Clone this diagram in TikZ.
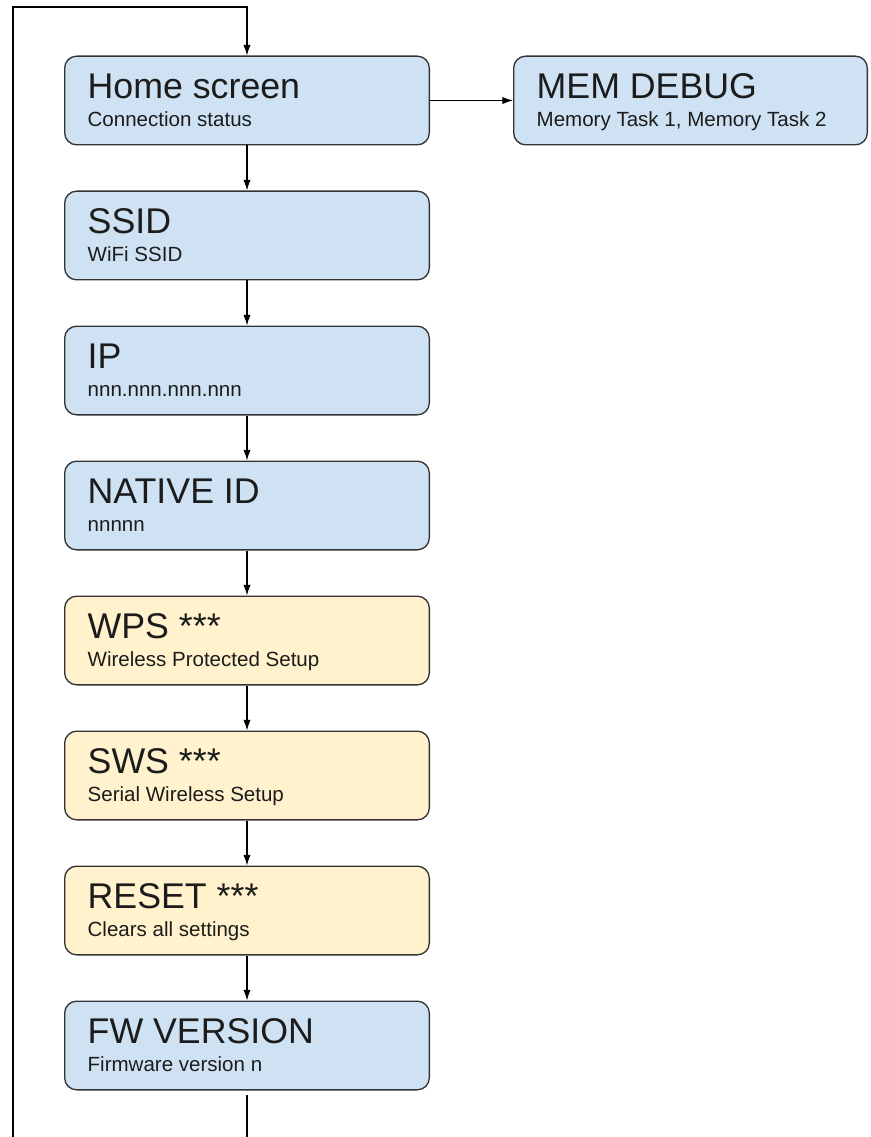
\documentclass[tikz,border=0pt]{standalone}
\usepackage{fontspec}
\setmainfont{Liberation Sans}
\usetikzlibrary{positioning,arrows.meta}
\definecolor{menublue}{HTML}{CFE2F3}
\definecolor{menuyellow}{HTML}{FFF2CC}
\definecolor{framegray}{HTML}{333333}
\definecolor{textdark}{HTML}{1C1C1C}
\newcommand{\menuitem}[2]{{\fontsize{26.8}{30}\selectfont #1}\\\raisebox{0pt}[\height][0pt]{#2}}
\tikzset{
  screen/.style={draw=framegray,line width=1pt,rounded corners=9pt,
    minimum width=273.5pt,minimum height=66.5pt,text width=239pt,inner xsep=17.25pt,
    align=flush left,text=textdark,font=\fontsize{15.4}{21}\selectfont},
  info/.style={screen,fill=menublue},
  setup/.style={screen,fill=menuyellow},
  flow/.style={draw=black,line width=0.9pt,-{Latex[length=8pt,width=5.5pt]}},
}

\begin{document}
\begin{tikzpicture}[x=0.75pt,y=-0.75pt,node distance=33.75pt]
\useasboundingbox (0,0) rectangle (870,1137);
\node[info] (home) at (247,100.5) {\menuitem{Home screen}{Connection status}};
\node[info,right=62.25pt of home,minimum width=265.25pt,text width=230.75pt] (mem) {\menuitem{MEM DEBUG}{Memory Task 1, Memory Task 2}};
\node[info,below=of home] (ssid) {\menuitem{SSID}{WiFi SSID}};
\node[info,below=of ssid] (ip) {\menuitem{IP}{nnn.nnn.nnn.nnn}};
\node[info,below=of ip] (native) {\menuitem{NATIVE ID}{nnnnn}};
\node[setup,below=of native] (wps) {\menuitem{WPS ***}{Wireless Protected Setup}};
\node[setup,below=of wps] (sws) {\menuitem{SWS ***}{Serial Wireless Setup}};
\node[setup,below=of sws] (reset) {\menuitem{RESET ***}{Clears all settings}};
\node[info,below=of reset] (fw) {\menuitem{FW VERSION}{Firmware version n}};

\foreach \a/\b in {home/mem,home/ssid,ssid/ip,ip/native,native/wps,wps/sws,sws/reset,reset/fw}
  \draw[flow] (\a) -- (\b);

% wrap-around back to the home screen
\coordinate (loop in) at (13,1137);
\coordinate (loop top) at (13,7);
\draw[line width=0.9pt,shorten <=3pt] (fw.south) -- (fw.south |- loop in);
\draw[flow] (loop in) -- (loop top) -| (home.north);
\end{tikzpicture}
\end{document}
